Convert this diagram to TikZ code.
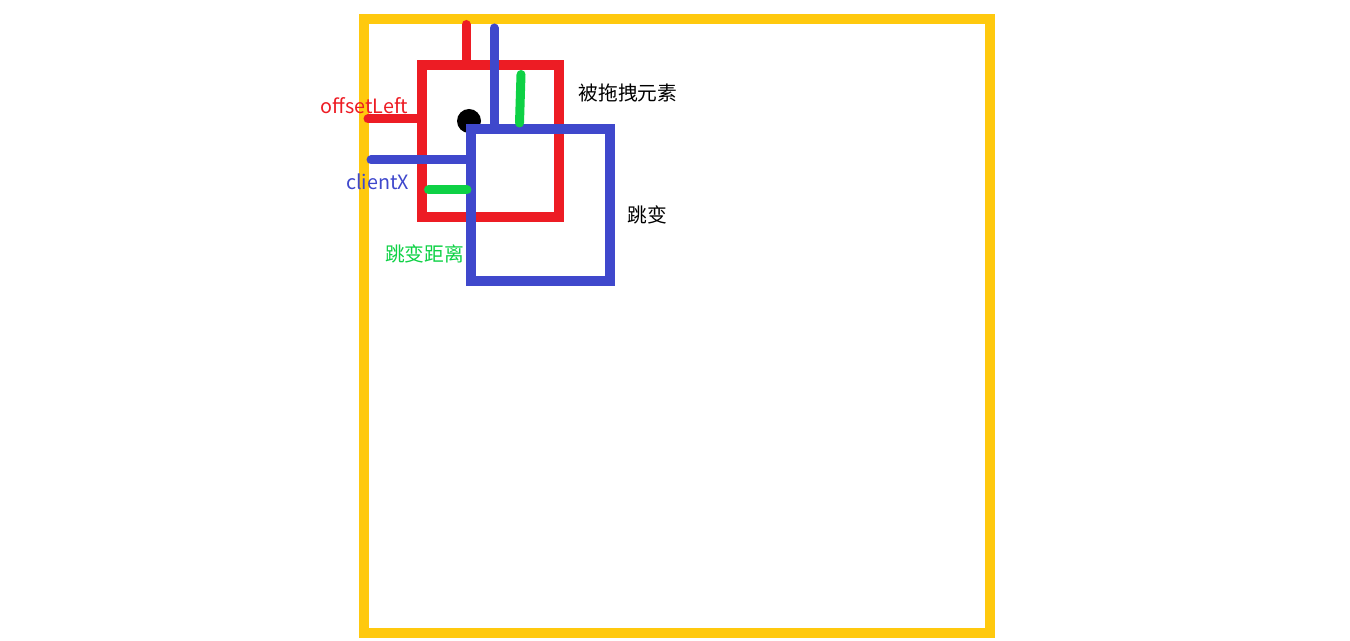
\documentclass[tikz,border=0pt]{standalone}
\usepackage{fontspec}
\usepackage{xcolor}
\usepackage{tikz}
\newfontfamily\cjk{Noto Sans CJK SC}
\definecolor{frameyellow}{RGB}{255,201,14}
\definecolor{dragred}{RGB}{237,28,36}
\definecolor{jumpblue}{RGB}{63,72,204}
\definecolor{distgreen}{RGB}{14,209,69}
\tikzset{
  box/.style={draw, line width=7.5pt, outer sep=0pt, inner sep=0pt},
  mark line/.style={line width=6.75pt, line cap=round},
  label text/.style={font=\cjk\fontsize{14.8pt}{16pt}\selectfont, inner sep=0pt}
}

\begin{document}
\begin{tikzpicture}[x=0.75pt, y=-0.75pt]
        \useasboundingbox (0,0) rectangle (1350,641);
        \draw[frameyellow, line width=7.5pt] (364,19) rectangle (990,633);

        \node[box, dragred, minimum width=103.1pt, minimum height=113.8pt] (drag) at (490.5,140.9) {};
        \fill (469,121) circle (9pt);
        \node[box, jumpblue, minimum width=104.3pt, minimum height=114pt] (jump) at (540.5,205) {};

        \coordinate (redtop) at (466,24.5);
        \coordinate (bluetop) at (494,28);
        \coordinate (redleft) at (368,119);
        \coordinate (blueleft) at (371,160);
        \coordinate (greentop) at (521,74.5);
        \coordinate (greenbot) at (519.5,123);
        \coordinate (greenleft) at (428.5,190);
        \coordinate (greenright) at (467,190);

        \draw[mark line, dragred] (redtop) -- (redtop |- drag.north);
        \draw[mark line, jumpblue] (bluetop) -- (bluetop |- jump.north);
        \draw[mark line, dragred] (redleft) -- (redleft -| drag.west);
        \draw[mark line, jumpblue] (blueleft) -- (blueleft -| jump.west);
        \draw[mark line, distgreen] (greentop) -- (greenbot);
        \draw[mark line, distgreen] (greenleft) -- (greenright);

        \node[label text] (dragname) at (628,92.5) {被拖拽元素};
        \node[label text, dragred] (offsetname) at (364.5,106) {offsetLeft};
        \node[label text, jumpblue] (clientname) at (377.5,181.5) {clientX};
        \node[label text] (jumpname) at (647,215) {跳变};
        \node[label text, distgreen] (distname) at (424.5,253.5) {跳变距离};
      \end{tikzpicture}
\end{document}
